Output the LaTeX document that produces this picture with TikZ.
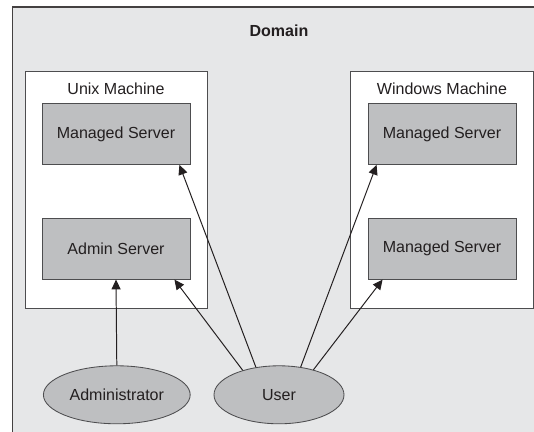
\documentclass[tikz,border=0pt]{standalone}
\usepackage{fontspec}
\setmainfont{Liberation Sans}
\usetikzlibrary{arrows.meta,calc,shapes.geometric}
\definecolor{ink}{HTML}{231F20}
\definecolor{frame}{HTML}{4D4D4F}
\definecolor{domainbg}{HTML}{E6E7E8}
\definecolor{server}{HTML}{BEBFC1}

\begin{document}
\begin{tikzpicture}[font=\fontsize{11.4}{13.7}\selectfont,text=ink,>={Triangle[length=7pt,width=6.5pt]},
  machine/.style={draw=frame,fill=white,line width=.6pt},
  serverbox/.style={draw=frame,fill=server,line width=.6pt,minimum width=3.7cm,minimum height=1.52cm},
  actor/.style={ellipse,draw=frame,fill=server,line width=.6pt,minimum width=3.25cm,minimum height=1.45cm},
  link/.style={->,ink,line width=.7pt}]
  \useasboundingbox (0,0) rectangle (13.35,10.8);
  \clip (0,0) rectangle (13.35,10.8);

  % domain runs off the right and bottom edges
  \draw[draw=ink!85,fill=domainbg,line width=1pt] (0.31,-1) rectangle (14,10.625);
  \node[font=\fontsize{11.4}{13.7}\selectfont\bfseries] (domain) at (6.975,10.03) {Domain};

  % machines
  \draw[machine] (0.64,3.08) rectangle (5.185,9.01);
  \draw[machine] (8.77,3.08) rectangle (13.325,9.01);
  \node (unix) at (2.9,8.575) {Unix Machine};
  \node (windows) at (11.05,8.575) {Windows Machine};

  % servers
  \node[serverbox] (unixms) at (2.9,7.45) {Managed Server};
  \node[serverbox] (admin) at (2.9,4.58) {Admin Server};
  \node[serverbox] (winms1) at (11.05,7.45) {Managed Server};
  \node[serverbox] (winms2) at (11.05,4.58) {Managed Server};

  % people
  \node[actor] (administrator) at (2.92,0.93) {Administrator};
  \node[actor] (user) at (6.975,0.93) {User};

  \draw[link] (administrator.north) -- (admin.south);
  \draw[link] (user.146) -- ([xshift=-0.4cm]admin.south east);
  \draw[link] (user.130) -- ([xshift=-0.275cm]unixms.south east);
  \draw[link] (user.52) -- ([xshift=0.225cm]winms1.south west);
  \draw[link] (user.36) -- ([xshift=0.375cm]winms2.south west);
\end{tikzpicture}
\end{document}
